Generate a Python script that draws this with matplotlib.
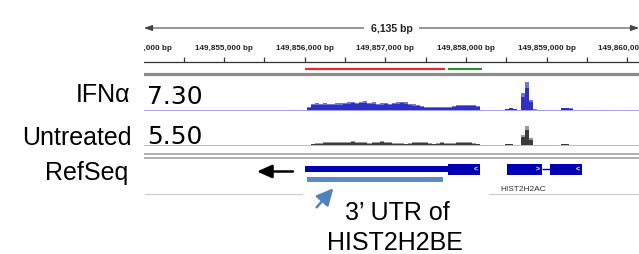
import matplotlib
matplotlib.use("Agg")
import matplotlib.pyplot as plt
import numpy as np

plt.rcParams['font.family'] = ['Liberation Sans', 'DejaVu Sans']

# genomic window shown
VIEW_START = 149854010
VIEW_END = 149860145
SPAN_LABEL = "6,135 bp"

# coverage bins (50 bp each)
BIN_START = 149855880
BIN_SIZE = 50
ifn_cov = [0.15, 0.1, 0.0, 0.8, 1.5, 1.6, 1.5, 1.6, 1.5, 1.5,
           1.6, 1.6, 1.7, 1.8, 1.9, 1.7, 1.9, 2.0, 1.7, 1.8,
           1.5, 1.6, 1.7, 1.5, 1.7, 1.8, 1.9, 1.8, 1.4, 1.3,
           1.2, 0.9, 0.8, 0.7, 0.8, 0.8, 0.7, 0.8, 0.8, 0.9,
           1.2, 1.1, 1.1, 1.2, 1.1, 0.9, 0.2, 0.0, 0.0, 0.0,
           0.0, 0.05, 0.4, 0.6, 0.4, 0.1, 3.7, 6.0, 2.2, 0.3,
           0.2, 0.15, 0.15, 0.2, 0.1, 0.0, 0.6, 0.6, 0.5, 0.0,
           0.0, 0.0, 0.0, 0.0, 0.0, 0.0, 0.2, 0.2]
untreated_cov = [0.0, 0.0, 0.0, 0.2,
                 0.4, 0.5, 0.5, 0.6, 0.6, 0.6, 0.7, 0.6, 0.6, 0.7,
                 0.8, 0.7, 0.6, 0.6, 0.5, 0.6, 0.7, 0.8, 0.6, 0.6,
                 0.5, 0.5, 0.5, 0.4, 0.5, 0.6, 0.6, 0.7, 0.7, 0.5,
                 0.4, 0.5, 0.6, 0.5, 0.5, 0.5, 0.6, 0.7, 0.7, 0.6,
                 0.5, 0.4, 0.1, 0.0, 0.0, 0.0, 0.0, 0.0,
                 0.3, 0.3, 0.2, 0.0, 2.0, 3.6, 1.4,
                 0.1, 0.05, 0.05, 0.05, 0.0, 0.0, 0.0,
                 0.3, 0.3, 0.2, 0.0, 0.0, 0.0, 0.0, 0.0, 0.0, 0.0, 0.0, 0.0]
ifn_max = 7.30
untreated_max = 5.50
track_names = ["IFNα", "Untreated", "RefSeq"]

# region bars under the ruler
red_region = (149856000, 149857739)
green_region = (149857780, 149858194)

# gene models (start, end)
utr_bar = (149856000, 149857777)
gene_exons = [(149857777, 149858173), (149858504, 149858938), (149859040, 149859433)]
exon_strands = ["<", ">", "<"]
highlight_utr = (149856033, 149857711)
gene_label = ("HIST2H2AC", 149858706)

W, H = 639, 255
fig = plt.figure(figsize=(W / 100, H / 100), dpi=100)


def px_axes(x0, y0, x1, y1):
    a = fig.add_axes([x0 / W, 1 - y1 / H, (x1 - x0) / W, (y1 - y0) / H])
    a.axis('off')
    return a


X0, X1 = 144, 639
ax = px_axes(X0, 0, X1, H)
ax.set_xlim(VIEW_START, VIEW_END)
ax.set_ylim(H, 0)

# ruler
ax.annotate('', xy=(VIEW_START, 29), xytext=(VIEW_END, 29),
            arrowprops=dict(arrowstyle='<|-|>,head_length=0.5,head_width=0.18',
                            color='#444444', lw=0.8, shrinkA=0, shrinkB=0))
mid = (VIEW_START + VIEW_END) / 2
ax.text(mid, 29, SPAN_LABEL, ha='center', va='center', fontsize=7.6,
        fontweight='bold', color='#222222',
        bbox=dict(facecolor='white', edgecolor='none', pad=4.5))
ax.axhline(63, color='#333333', lw=0.9)
ticks = np.arange(149854500, VIEW_END, 500)
ax.vlines(ticks, 57.5, 63, color='#333333', lw=0.9)
# edge labels are cut by the panel, as in the browser view
for t in np.arange(149854000, VIEW_END + 1000, 1000):
    ax.text(t, 48, f"{t:,} bp", ha='center', va='center', fontsize=5.9,
            fontweight='bold', color='#222222', clip_on=True)

ax.hlines(69.5, *red_region, color='#e8282b', lw=1.6)
ax.hlines(69.5, *green_region, color='#2f8a3c', lw=1.6)
ax.axhline(74.5, color='#8c8c8c', lw=2.3)

# separators
ax.axhline(154.5, color='#9a9a9a', lw=1.1)
ax.axhline(159.0, color='#9a9a9a', lw=1.1)
ax.hlines(195, VIEW_START, 149855980, color='#d4d4d4', lw=1.0)
ax.hlines(195, 149858272, VIEW_END, color='#d4d4d4', lw=1.0)

# coverage tracks
bins = BIN_START + BIN_SIZE * np.arange(len(ifn_cov))


def cov_track(y0, y1, vals, vmax, light, dark, base):
    t = px_axes(X0, y0, X1, y1)
    t.set_xlim(VIEW_START, VIEW_END)
    t.set_ylim(0, vmax)
    t.axhline(0, color=base, lw=1.4)
    v = np.array(vals)
    t.bar(bins, v, width=BIN_SIZE, align='edge', color=light, linewidth=0)
    t.bar(bins, v * 0.8, width=BIN_SIZE, align='edge', color=dark, linewidth=0)
    return t


cov_track(76.7, 111.7, ifn_cov, ifn_max, '#7474dc', '#2f2fc4', '#a4a4e8')
cov_track(116.7, 146.7, untreated_cov, untreated_max, '#9a9a9a', '#3c3c3c', '#bdbdbd')

fig.text(147 / W, 1 - 96.5 / H, f"{ifn_max:.2f}", ha='left', va='center',
         fontsize=18, family='DejaVu Sans')
fig.text(147 / W, 1 - 136.5 / H, f"{untreated_max:.2f}", ha='left', va='center',
         fontsize=18, family='DejaVu Sans')

# left labels
fig.text(130 / W, 1 - 95 / H, track_names[0], ha='right', va='center', fontsize=18)
fig.text(132 / W, 1 - 138 / H, track_names[1], ha='right', va='center', fontsize=18)
fig.text(128 / W, 1 - 173 / H, track_names[2], ha='right', va='center', fontsize=18)

# gene models
blue = '#0000b2'
ax.add_patch(plt.Rectangle((utr_bar[0], 167.3), utr_bar[1] - utr_bar[0], 6,
                           color=blue, lw=0))
ax.hlines(170.3, gene_exons[1][1], gene_exons[2][0], color=blue, lw=1)
for (s, e), ch in zip(gene_exons, exon_strands):
    ax.add_patch(plt.Rectangle((s, 165), e - s, 10.7, color=blue, lw=0))
    ax.text(e - 0.12 * (e - s), 170.3, ch, ha='center', va='center',
            fontsize=5, color='white', fontweight='bold')
ax.text(gene_label[1], 189.5, gene_label[0], ha='center', va='center',
        fontsize=6, color='#333333')

ax.annotate('', xy=(149855410, 172.5), xytext=(149855856, 172.5),
            arrowprops=dict(arrowstyle='-|>,head_length=0.9,head_width=0.4',
                            color='black', lw=1.8, shrinkA=0, shrinkB=0))

ax.add_patch(plt.Rectangle((highlight_utr[0], 178.3), highlight_utr[1] - highlight_utr[0], 5,
                           color='#5b8bc8', lw=0))

# annotation
ax.annotate('', xy=(149856356, 189.3), xytext=(149856150, 208.3),
            arrowprops=dict(arrowstyle='-|>,head_length=1.0,head_width=0.5',
                            color='#4f81bd', lw=1.8, shrinkA=0, shrinkB=0))
ax.text(149857145, 213, "3’ UTR of", ha='center', va='center', fontsize=18)
ax.text(149857120, 243, "HIST2H2BE", ha='center', va='center', fontsize=18)

fig.savefig("out.png", dpi=100)
